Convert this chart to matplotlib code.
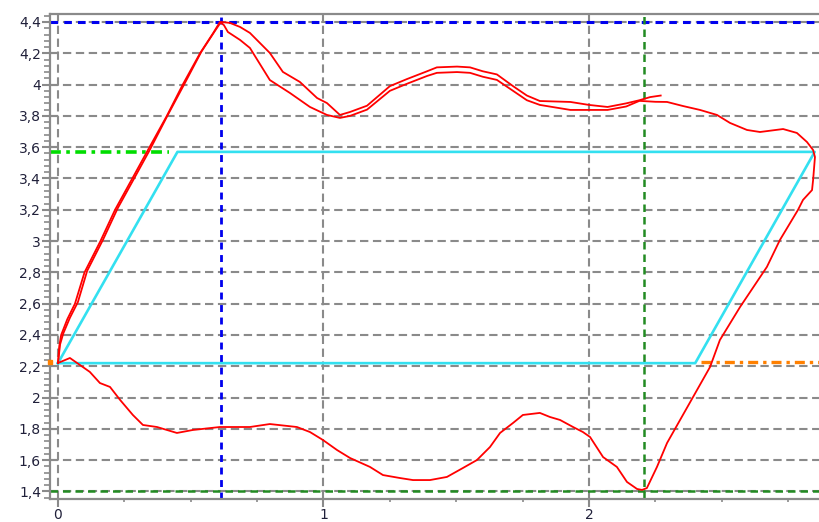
import matplotlib
matplotlib.use('Agg')
import matplotlib.pyplot as plt
from matplotlib.ticker import MultipleLocator, FuncFormatter

# hlavna slucka (cervena) - od startu hore, hore po vrchole, vpravo dole, spat po spodku
loop_x = [0.0, 0.005, 0.012, 0.035, 0.064, 0.10, 0.16, 0.215, 0.28, 0.335, 0.41, 0.47,
          0.535, 0.585, 0.61, 0.625, 0.64, 0.686, 0.723, 0.798, 0.874, 0.949, 1.013, 1.062,
          1.10, 1.164, 1.25, 1.314, 1.39, 1.427, 1.503, 1.552, 1.60, 1.653, 1.714, 1.766,
          1.815, 1.93, 2.0, 2.07, 2.14, 2.19, 2.25, 2.294, 2.354, 2.418, 2.482, 2.531,
          2.595, 2.644, 2.731, 2.783, 2.821, 2.844, 2.851, 2.844, 2.84, 2.806, 2.787,
          2.719, 2.67, 2.569, 2.493, 2.456, 2.392, 2.343, 2.294, 2.256, 2.218, 2.2, 2.181,
          2.143, 2.105, 2.053, 2.004, 1.977, 1.94, 1.891, 1.853, 1.815, 1.751, 1.714,
          1.665, 1.627, 1.578, 1.525, 1.465, 1.401, 1.337, 1.288, 1.224, 1.175, 1.1,
          1.051, 0.998, 0.949, 0.9, 0.798, 0.723, 0.61, 0.508, 0.448, 0.373, 0.32, 0.282,
          0.234, 0.196, 0.158, 0.12, 0.083, 0.045, 0.0]
loop_y = [2.22, 2.33, 2.40, 2.50, 2.60, 2.80, 3.0, 3.2, 3.4, 3.57, 3.8, 4.0,
          4.2, 4.33, 4.40, 4.38, 4.336, 4.285, 4.234, 4.029, 3.946, 3.857, 3.806, 3.787,
          3.80, 3.84, 3.96, 4.005, 4.055, 4.075, 4.08, 4.075, 4.05, 4.03, 3.96, 3.90,
          3.87, 3.838, 3.838, 3.838, 3.86, 3.896, 3.89, 3.889, 3.863, 3.838, 3.806, 3.755,
          3.71, 3.697, 3.716, 3.691, 3.633, 3.582, 3.537, 3.39, 3.326, 3.263, 3.199,
          3.007, 2.835, 2.579, 2.368, 2.196, 2.004, 1.857, 1.71, 1.557, 1.422, 1.41, 1.416,
          1.461, 1.557, 1.62, 1.748, 1.78, 1.812, 1.857, 1.876, 1.902, 1.889, 1.838,
          1.774, 1.684, 1.601, 1.55, 1.493, 1.473, 1.473, 1.486, 1.505, 1.557, 1.614,
          1.665, 1.729, 1.78, 1.812, 1.831, 1.812, 1.812, 1.793, 1.774, 1.812, 1.825, 1.889,
          1.985, 2.068, 2.093, 2.164, 2.208, 2.253, 2.221]

# druha vetva (cervena) - hore, konci pri x~2.27
branch_x = [0.0, 0.008, 0.02, 0.045, 0.075, 0.11, 0.17, 0.225, 0.29, 0.345, 0.415, 0.478,
            0.54, 0.59, 0.614, 0.648, 0.686, 0.723, 0.798, 0.847, 0.911, 0.976, 1.013,
            1.062, 1.10, 1.164, 1.25, 1.314, 1.39, 1.427, 1.503, 1.552, 1.60, 1.653,
            1.714, 1.766, 1.815, 1.93, 2.0, 2.07, 2.14, 2.19, 2.23, 2.27]
branch_y = [2.22, 2.34, 2.41, 2.51, 2.61, 2.81, 3.01, 3.21, 3.41, 3.58, 3.81, 4.01,
            4.21, 4.34, 4.40, 4.394, 4.368, 4.33, 4.202, 4.081, 4.017, 3.914, 3.882,
            3.806, 3.825, 3.865, 3.99, 4.035, 4.085, 4.11, 4.115, 4.11, 4.085, 4.065,
            3.99, 3.93, 3.895, 3.889, 3.87, 3.857, 3.88, 3.90, 3.92, 3.93]

# cyan rovnobeznik
para_x = [0.0, 2.40, 2.85, 0.45, 0.0]
para_y = [2.22, 2.22, 3.57, 3.57, 2.22]

# pomocne ciary
y_max, x_max = 4.4, 0.614
y_min, x_min = 1.4, 2.207
y_upper, x_upper_end = 3.569, 0.42
y_lower, x_lower_start = 2.228, 2.42

xlim = (-0.03, 2.87)
ylim = (1.352, 4.451)

fig = plt.figure(figsize=(8.2, 5.22), dpi=100)
ax = fig.add_axes([50/820, 23/522, 770/820, 485/522])
ax.set_xlim(*xlim)
ax.set_ylim(*ylim)

gray = '#8a8a8a'
ax.grid(True, which='major', color=gray, linestyle=(0, (4, 2.2)), linewidth=1.5, zorder=0)

ax.axhline(y_max, color='#0000ee', linestyle=(0, (2.5, 2)), linewidth=2.2, zorder=2)
ax.axvline(x_max, color='#0000ee', linestyle=(0, (2.5, 2)), linewidth=2.0, zorder=2)
ax.axhline(y_min, color='#228b22', linestyle=(0, (3, 2)), linewidth=1.8, zorder=2)
ax.axvline(x_min, color='#228b22', linestyle=(0, (3, 2)), linewidth=1.8, zorder=2)
ax.plot([xlim[0], x_upper_end], [y_upper, y_upper], color='#00dd00',
        linestyle=(0, (3, 1.5, 1, 1.5)), linewidth=2.6, zorder=2)
ax.plot([x_lower_start, xlim[1]], [y_lower, y_lower], color='#ff8000',
        linestyle=(0, (3, 1.5, 1, 1.5)), linewidth=2.4, zorder=2)
ax.plot([xlim[0]], [y_lower], 's', color='#ff8000', markersize=3, clip_on=False, zorder=5)

ax.plot(para_x, para_y, color='#33e0f0', linewidth=1.9, zorder=3)
ax.plot(branch_x, branch_y, color='#ff0000', linewidth=1.3, zorder=4)
ax.plot(loop_x, loop_y, color='#ff0000', linewidth=1.3, zorder=4)

ax.xaxis.set_major_locator(MultipleLocator(1))
ax.xaxis.set_minor_locator(MultipleLocator(0.25))
ax.yaxis.set_major_locator(MultipleLocator(0.2))
ax.yaxis.set_minor_locator(MultipleLocator(0.04))
ax.yaxis.set_major_formatter(FuncFormatter(lambda v, p: f'{round(v, 2):g}'.replace('.', ',')))

ax.tick_params(axis='y', which='major', direction='inout', length=11, width=1.5,
               color=gray, labelsize=10, labelcolor='#20203a', pad=1)
ax.tick_params(axis='y', which='minor', direction='out', length=4, width=1.2, color=gray)
ax.tick_params(axis='x', which='major', direction='out', length=6, width=1.5,
               color=gray, labelsize=10, labelcolor='#20203a', pad=0.5)
ax.tick_params(axis='x', which='minor', direction='out', length=2.5, width=1.2, color=gray)

for side in ['left', 'top', 'bottom']:
    ax.spines[side].set_color(gray)
    ax.spines[side].set_linewidth(1.6)
ax.spines['right'].set_visible(False)

plt.savefig('out.png', dpi=100)
